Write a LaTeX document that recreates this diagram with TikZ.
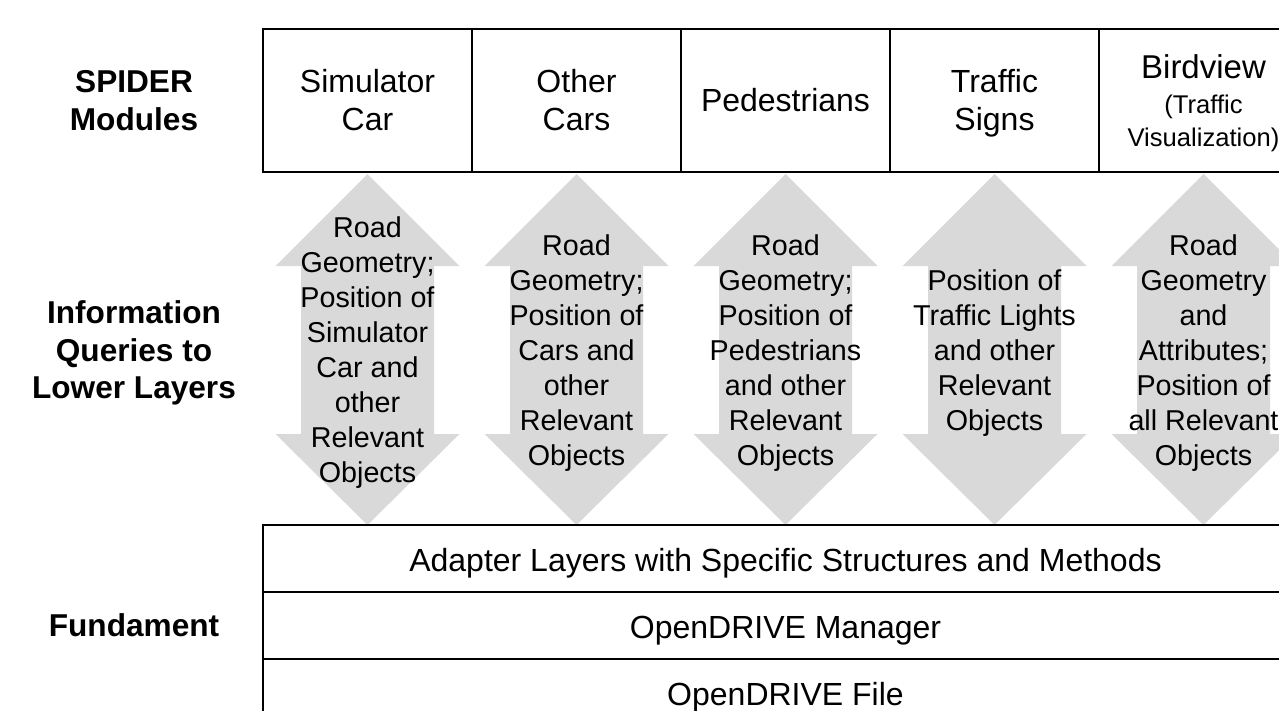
\documentclass[tikz,border=0pt]{standalone}
\usepackage{fontspec}
\setmainfont{Liberation Sans}
\usetikzlibrary{positioning}
\definecolor{querygray}{RGB}{217,217,217}

\begin{document}
\begin{tikzpicture}[x = 1pt, y = -1pt,
  module/.style = {draw, line width = 1.5pt, outer sep = 0pt, inner sep = 0pt, minimum width = 209pt, minimum height = 143pt, align = center, font = \fontsize{32}{38}\selectfont},
  layer/.style = {draw, line width = 1.5pt, outer sep = 0pt, inner sep = 0pt, minimum width = 1045pt, minimum height = 67pt, text height = 26pt, text depth = 0pt, font = \fontsize{32}{38}\selectfont},
  query/.style = {align = center, inner sep = 0pt, font = \fontsize{28.7}{35}\selectfont},
  side/.style = {align = center, font = \bfseries\fontsize{31.6}{37.5}\selectfont}]
\useasboundingbox (0, 0) rectangle (1279, 710);
\clip (0, 0) rectangle (1279, 710);
% module row
\node[module] (simcar) at (367.5, 100.5) {Simulator\\Car};
\node[module, right = 0pt of simcar] (othercars) {Other\\Cars};
\node[module, right = 0pt of othercars] (peds) {Pedestrians};
\node[module, right = 0pt of peds] (signs) {Traffic\\Si\smash{g}ns};
\node[module, right = 0pt of signs] (birdview) {{\fontsize{33}{38}\selectfont\rule{0pt}{30pt}Birdview}\\[-3pt]{\fontsize{25.6}{31}\selectfont(Traffic}\\[-5pt]{\fontsize{25.6}{31}\selectfont Visualization)}};
% query arrows
\foreach \m in {simcar, othercars, peds, signs, birdview}
  \fill[querygray] ([yshift = -2pt]\m.south) -- ++(92, 92) -- ++(-25.5, 0) -- ++(0, 168) -- ++(25.5, 0) -- ++(-92, 91) -- ++(-92, -91) -- ++(25.5, 0) -- ++(0, -168) -- ++(-25.5, 0) -- cycle;
\node[query] (qsimcar) at ([yshift = -181pt]simcar.south) {Road\\Geometry;\\Position of\\Simulator\\Car and\\other\\Relevant\\Objects};
\node[query] (qothercars) at ([yshift = -181pt]othercars.south) {Road\\Geometry;\\Position of\\Cars and\\other\\Relevant\\Objects};
\node[query] (qpeds) at ([yshift = -181pt]peds.south) {Road\\Geometry;\\Position of\\Pedestrians\\and other\\Relevant\\Objects};
\node[query] (qsigns) at ([yshift = -181pt]signs.south) {Position of\\Traffic Lights\\and other\\Relevant\\Objects};
\node[query] (qbirdview) at ([yshift = -181pt]birdview.south) {Road\\Geometry\\and\\Attributes;\\Position of\\all Relevant\\Objects};
% fundament layers
\node[layer, anchor = north west] (adapter) at ([yshift = -353pt]simcar.south west) {Adapter Layers with Specific Structures and Methods};
\node[layer, below = 0pt of adapter] (manager) {OpenDRIVE Manager};
\node[layer, below = 0pt of manager] (file) {OpenDRIVE File};
% side labels
\node[side] (spider) at (simcar -| 134, 0) {SPIDER\\Modules};
\node[side] (queries) at (qsimcar -| 134, 0) {Information\\Queries to\\Lower Layers};
\node[side] (fundament) at (manager -| 134, 0) {Fundament};
\end{tikzpicture}
\end{document}
